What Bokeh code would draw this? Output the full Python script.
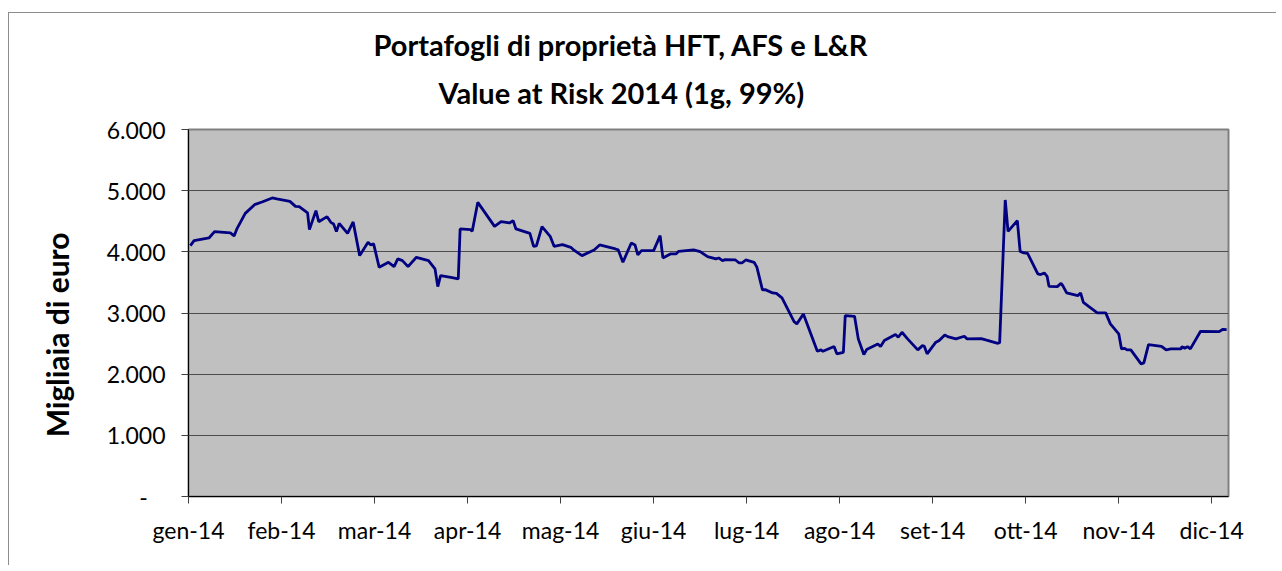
from bokeh.plotting import figure
from bokeh.models import Range1d, FixedTicker, Title
from bokeh.embed import file_html
from bokeh.resources import INLINE

# Month tick labels (x positions are month indexes from gen-14)
mesi = ["gen-14", "feb-14", "mar-14", "apr-14", "mag-14", "giu-14",
        "lug-14", "ago-14", "set-14", "ott-14", "nov-14", "dic-14"]

# Position of each observation, in months since the start of gen-14
mesi_pos = [0.02, 0.06, 0.22, 0.28, 0.45, 0.49, 0.52, 0.61, 0.71, 0.79,
            0.90, 0.95, 1.09, 1.15, 1.19, 1.28, 1.30, 1.37, 1.40, 1.49,
            1.53, 1.56, 1.59, 1.62, 1.71, 1.77, 1.84, 1.93, 1.96, 1.99,
            2.05, 2.15, 2.21, 2.25, 2.30, 2.36, 2.45, 2.58, 2.65, 2.68,
            2.71, 2.82, 2.90, 2.92, 3.03, 3.05, 3.11, 3.29, 3.36, 3.45,
            3.49, 3.52, 3.67, 3.71, 3.74, 3.80, 3.89, 3.93, 4.02, 4.11,
            4.14, 4.23, 4.36, 4.42, 4.59, 4.62, 4.67, 4.76, 4.80, 4.83,
            4.87, 5.00, 5.07, 5.10, 5.18, 5.24, 5.27, 5.43, 5.50, 5.58,
            5.67, 5.70, 5.74, 5.77, 5.88, 5.92, 5.95, 5.99, 6.08, 6.11,
            6.17, 6.20, 6.28, 6.32, 6.38, 6.51, 6.54, 6.61, 6.76, 6.80,
            6.82, 6.94, 6.97, 7.04, 7.06, 7.16, 7.20, 7.26, 7.29, 7.41,
            7.44, 7.48, 7.60, 7.63, 7.67, 7.73, 7.84, 7.89, 7.91, 7.94,
            8.03, 8.07, 8.13, 8.16, 8.25, 8.34, 8.37, 8.52, 8.57, 8.70,
            8.72, 8.78, 8.81, 8.91, 8.94, 8.98, 9.02, 9.13, 9.16, 9.20,
            9.23, 9.25, 9.34, 9.38, 9.40, 9.44, 9.56, 9.59, 9.62, 9.68,
            9.77, 9.86, 9.91, 10.00, 10.03, 10.06, 10.09, 10.13, 10.24, 10.27,
            10.32, 10.46, 10.51, 10.56, 10.67, 10.68, 10.71, 10.74, 10.77, 10.88,
            11.08, 11.12, 11.16]

# Value at Risk, thousands of euro
var_migliaia = [4101, 4183, 4227, 4330, 4309, 4260, 4374, 4629, 4771, 4815,
                4881, 4864, 4825, 4743, 4738, 4636, 4363, 4673, 4493, 4575,
                4482, 4456, 4330, 4466, 4302, 4488, 3938, 4155, 4113, 4129,
                3747, 3829, 3758, 3884, 3856, 3758, 3911, 3856, 3721, 3431,
                3611, 3583, 3557, 4374, 4363, 4335, 4809, 4417, 4493, 4472,
                4510, 4374, 4302, 4090, 4096, 4412, 4248, 4090, 4118, 4074,
                4031, 3938, 4031, 4113, 4047, 4031, 3829, 4145, 4113, 3949,
                4020, 4020, 4265, 3900, 3966, 3966, 4008, 4031, 4003, 3922,
                3884, 3900, 3856, 3873, 3867, 3818, 3818, 3867, 3829, 3750,
                3378, 3382, 3328, 3322, 3247, 2860, 2822, 2985, 2374, 2397,
                2374, 2451, 2332, 2358, 2958, 2946, 2577, 2320, 2402, 2495,
                2451, 2549, 2647, 2603, 2685, 2577, 2397, 2467, 2456, 2332,
                2516, 2549, 2642, 2614, 2577, 2620, 2577, 2582, 2560, 2505,
                2516, 4848, 4335, 4510, 4008, 3982, 3976, 3639, 3628, 3655,
                3600, 3436, 3431, 3486, 3443, 3328, 3284, 3328, 3175, 3105,
                3002, 3002, 2822, 2659, 2413, 2423, 2397, 2397, 2168, 2185,
                2484, 2456, 2397, 2413, 2413, 2451, 2423, 2451, 2413, 2701,
                2696, 2734, 2729]

y_ticks = [0, 1000, 2000, 3000, 4000, 5000, 6000]
y_labels = ["-\u00a0\u00a0\u00a0", "1.000", "2.000", "3.000", "4.000", "5.000", "6.000"]

titolo = ["Portafogli di proprietà HFT, AFS e L&R", "Value at Risk 2014 (1g, 99%)"]
asse_y = "Migliaia di euro"

FONT = "Lato"

p = figure(width=1268, height=553, output_backend="svg", toolbar_location=None,
           x_range=Range1d(0, 11.18), y_range=Range1d(0, 6000),
           min_border_left=179, min_border_right=49,
           min_border_top=116, min_border_bottom=70,
           background_fill_color="#C0C0C0", border_fill_color="white",
           title=None)
p.styles = {"border-top": "1px solid #8c8c8c", "border-left": "1px solid #8c8c8c",
            "margin-top": "12px", "margin-left": "8px"}

p.outline_line_color = "#808080"
p.outline_line_width = 2

p.xgrid.grid_line_color = None
p.ygrid.grid_line_color = "#4d4d4d"
p.ygrid.grid_line_width = 1.2
p.ygrid.ticker = FixedTicker(ticks=y_ticks)

p.xaxis.ticker = FixedTicker(ticks=list(range(len(mesi))))
p.xaxis.major_label_overrides = {i: m for i, m in enumerate(mesi)}
p.yaxis.ticker = FixedTicker(ticks=y_ticks)
p.yaxis.major_label_overrides = {t: l for t, l in zip(y_ticks, y_labels)}

for ax in (p.xaxis, p.yaxis):
    ax.axis_line_color = "#000000"
    ax.axis_line_width = 1
    ax.major_tick_line_color = "#404040"
    ax.major_tick_out = 7
    ax.major_tick_in = 0
    ax.minor_tick_line_color = None
    ax.major_label_text_font = FONT
    ax.major_label_text_font_size = "23px"
    ax.major_label_text_color = "#000000"
p.xaxis.major_label_standoff = 12
p.yaxis.major_label_standoff = 16

p.yaxis.axis_label = asse_y + "\u00a0" * 6
p.yaxis.axis_label_text_font = FONT
p.yaxis.axis_label_text_font_size = "30px"
p.yaxis.axis_label_text_font_style = "bold"
p.yaxis.axis_label_text_color = "#000000"
p.yaxis.axis_label_standoff = 29

p.line(mesi_pos, var_migliaia, line_color="#000080", line_width=2.8)

# sub-title first (closest to the plot), main title above it
p.add_layout(Title(text=titolo[1], align="left", offset=250, text_font=FONT,
                   text_font_size="29px", text_font_style="bold",
                   text_color="#000000", standoff=39), "above")
p.add_layout(Title(text=titolo[0], align="left", offset=185, text_font=FONT,
                   text_font_size="29px", text_font_style="bold",
                   text_color="#000000", standoff=-17), "above")

open("out.html", "w").write(file_html(p, INLINE))
